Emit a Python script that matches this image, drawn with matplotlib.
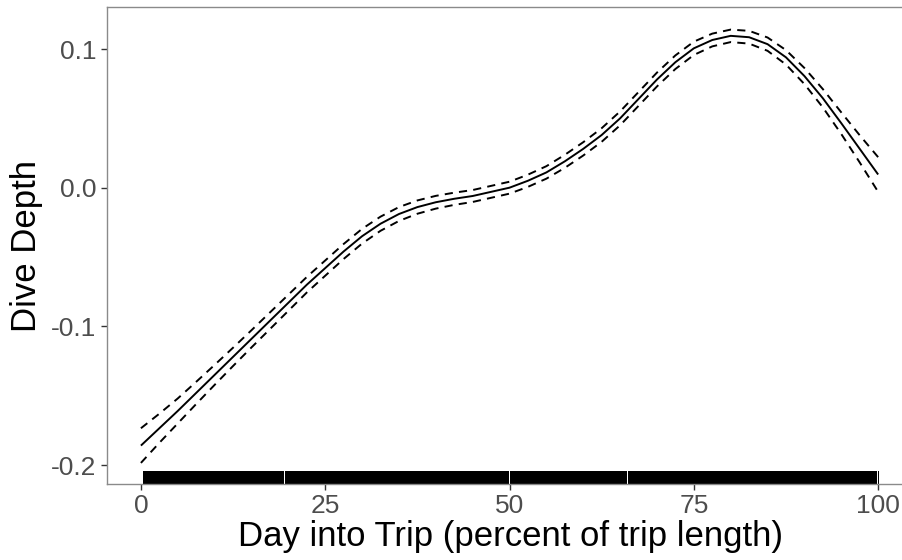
import matplotlib
matplotlib.use("Agg")
import matplotlib.pyplot as plt
import numpy as np

# Smooth fit of dive depth over the trip, with its standard error
day_pct = [0, 2.5, 5, 7.5, 10, 12.5, 15, 17.5, 20, 22.5, 25, 27.5, 30, 32.5, 35,
           37.5, 40, 42.5, 45, 47.5, 50, 52.5, 55, 57.5, 60, 62.5, 65, 67.5, 70,
           72.5, 75, 77.5, 80, 82.5, 85, 87.5, 90, 92.5, 95, 97.5, 100]
fit = [-0.186, -0.1735, -0.161, -0.148, -0.135, -0.122, -0.109, -0.096, -0.083,
       -0.070, -0.058, -0.046, -0.035, -0.026, -0.019, -0.014, -0.0105, -0.008,
       -0.006, -0.003, 0.000, 0.005, 0.011, 0.019, 0.028, 0.038, 0.050, 0.064,
       0.078, 0.0905, 0.1005, 0.1065, 0.1095, 0.1085, 0.1035, 0.094, 0.0805,
       0.0645, 0.0465, 0.028, 0.0095]
se = [0.00625, 0.00525, 0.0045, 0.004, 0.0036, 0.0033, 0.0031, 0.003, 0.0029,
      0.0028, 0.00275, 0.0027, 0.00265, 0.00255, 0.0025, 0.0024, 0.0023, 0.0022,
      0.00215, 0.00215, 0.00215, 0.0022, 0.00225, 0.00235, 0.0024, 0.00245,
      0.0025, 0.0025, 0.0025, 0.00245, 0.0024, 0.0023, 0.00225, 0.0023, 0.0024,
      0.0026, 0.0029, 0.0033, 0.0039, 0.0049, 0.00625]

# Stretches of the trip covered by observed dives (rug)
rug_spans = [(0.3, 15.87), (15.93, 19.47), (19.53, 49.97), (50.03, 65.97),
             (66.03, 76.07), (76.13, 99.52), (99.58, 99.87), (99.93, 100.1)]

x_ticks = [0, 25, 50, 75, 100]
y_ticks = [-0.2, -0.1, 0.0, 0.1]
y_tick_labels = ["-0.2", "-0.1", "0.0", "0.1"]

plt.rcParams["font.family"] = ["Liberation Sans", "DejaVu Sans"]

W, H = 903, 560
fig = plt.figure(figsize=(W / 100, H / 100), dpi=100)
ax = fig.add_axes([107 / W, 76 / H, 808 / W, 477 / H])

fit_a = np.array(fit)
se_a = np.array(se)
ax.plot(day_pct, fit_a, color="black", lw=1.4, solid_capstyle="butt",
        solid_joinstyle="round")
for band in (fit_a + 2 * se_a, fit_a - 2 * se_a):
    ax.plot(day_pct, band, color="black", lw=1.4, dashes=(4.2, 3.2),
            dash_capstyle="butt", dash_joinstyle="round")

ax.broken_barh([(a, b - a) for a, b in rug_spans], (0, 0.028),
               transform=ax.get_xaxis_transform(), facecolor="black",
               edgecolor="none")

ax.set_xlim(-4.6, 105)
ax.set_ylim(-0.2137, 0.1303)
ax.set_xticks(x_ticks)
ax.set_yticks(y_ticks)
ax.set_yticklabels(y_tick_labels)

for s in ("left", "top", "bottom"):
    ax.spines[s].set_color("#8a8a8a")
    ax.spines[s].set_linewidth(1.0)
ax.spines["right"].set_visible(False)
ax.tick_params(axis="both", colors="#333333", length=4.5, width=1.0,
               labelsize=19, labelcolor="#4d4d4d", pad=3)

ax.set_xlabel("Day into Trip (percent of trip length)", fontsize=25,
              color="black", labelpad=1)
ax.set_ylabel("Dive Depth", fontsize=25, color="black", labelpad=6)

fig.savefig("out.png", dpi=100)
